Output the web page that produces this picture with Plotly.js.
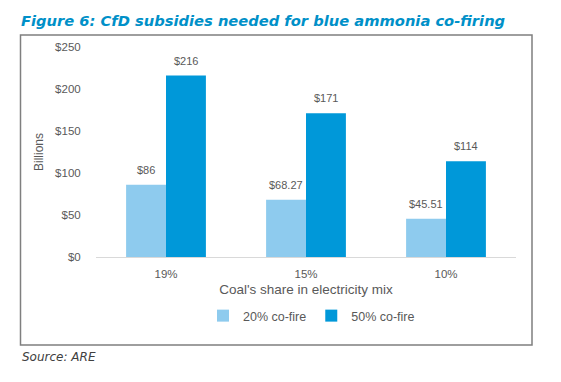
<!DOCTYPE html>
<html>
<head>
<meta charset="utf-8">
<script src="https://cdn.plot.ly/plotly-3.0.1.min.js"></script>
<style>
html,body{margin:0;padding:0;background:#fff;}
#chart{width:561px;height:382px;}
</style>
</head>
<body>
<div id="chart"></div>
<script>
const categories = ["19%", "15%", "10%"];
const series20 = [86, 68.27, 45.51];
const series50 = [216, 171, 114];
const labels20 = ["$86", "$68.27", "$45.51"];
const labels50 = ["$216", "$171", "$114"];
const seriesNames = ["20% co-fire", "50% co-fire"];
const yTicks = [0, 50, 100, 150, 200, 250];

const grey = "#595959";
const lblFont = {family: "Liberation Sans, Arial, sans-serif", size: 11, color: grey};

const traces = [
  {type: "bar", name: seriesNames[0], x: categories, y: series20,
   marker: {color: "#8ECBEE"}, hoverinfo: "none"},
  {type: "bar", name: seriesNames[1], x: categories, y: series50,
   marker: {color: "#0098D9"}, hoverinfo: "none"}
];

const L = 96, R = 516, T = 47, B = 257;
const W = R - L, H = B - T;
const px = x => (x - L) / W;
const py = y => (B - y) / H;

const valueLabels = [];
[[series20, labels20, -20], [series50, labels50, 20]].forEach(([vals, txt, shift]) => {
  vals.forEach((v, i) => {
    valueLabels.push({xref: "x", yref: "y", x: categories[i], y: v, text: txt[i],
      xshift: shift, yshift: 7, yanchor: "bottom", xanchor: "center",
      showarrow: false, font: lblFont});
  });
});

const layout = {
  width: 561, height: 382,
  margin: {l: L, r: 561 - R, t: T, b: 382 - B},
  paper_bgcolor: "#fff", plot_bgcolor: "#fff",
  barmode: "group", bargap: 0.43, bargroupgap: 0,
  showlegend: true,
  legend: {orientation: "h", x: px(203), y: py(316), xanchor: "left", yanchor: "middle",
    font: {family: "Liberation Sans, Arial, sans-serif", size: 12.5, color: grey},
    itemwidth: 30, tracegroupgap: 0, bgcolor: "rgba(0,0,0,0)"},
  xaxis: {
    type: "category", showgrid: false, zeroline: false,
    showline: true, linecolor: "#D9D9D9", linewidth: 1,
    ticks: "outside", ticklen: 6, tickcolor: "rgba(0,0,0,0)",
    tickfont: {family: "Liberation Sans, Arial, sans-serif", size: 11.5, color: grey},
    title: {text: "Coal's share in electricity mix", standoff: 5,
      font: {family: "Liberation Sans, Arial, sans-serif", size: 13.5, color: grey}}
  },
  yaxis: {
    range: [0, 250], tickvals: yTicks, ticktext: yTicks.map(v => "$" + v),
    showgrid: false, zeroline: false, showline: false,
    ticks: "outside", ticklen: 12, tickcolor: "rgba(0,0,0,0)",
    tickfont: {family: "Liberation Sans, Arial, sans-serif", size: 11.5, color: grey},
    title: {text: "Billions", standoff: 8,
      font: {family: "Liberation Sans, Arial, sans-serif", size: 12, color: grey}}
  },
  shapes: [
    {type: "rect", xref: "paper", yref: "paper",
     x0: px(20.5), x1: px(532), y0: py(345), y1: py(35),
     line: {color: "#7F7F7F", width: 1.5}, fillcolor: "rgba(0,0,0,0)", layer: "below"}
  ],
  annotations: valueLabels.concat([
    {xref: "paper", yref: "paper", x: px(19), y: py(20), xanchor: "left", yanchor: "middle",
     showarrow: false, text: "<b><i>Figure 6: CfD subsidies needed for blue ammonia co-firing</i></b>",
     font: {family: "DejaVu Sans, Verdana, sans-serif", size: 14.7, color: "#0090C8"}},
    {xref: "paper", yref: "paper", x: px(20), y: py(357), xanchor: "left", yanchor: "middle",
     showarrow: false, text: "<i>Source: ARE</i>",
     font: {family: "DejaVu Sans, Verdana, sans-serif", size: 12, color: "#404040"}}
  ])
};

Plotly.newPlot("chart", traces, layout, {staticPlot: true, displayModeBar: false});
</script>
</body>
</html>
